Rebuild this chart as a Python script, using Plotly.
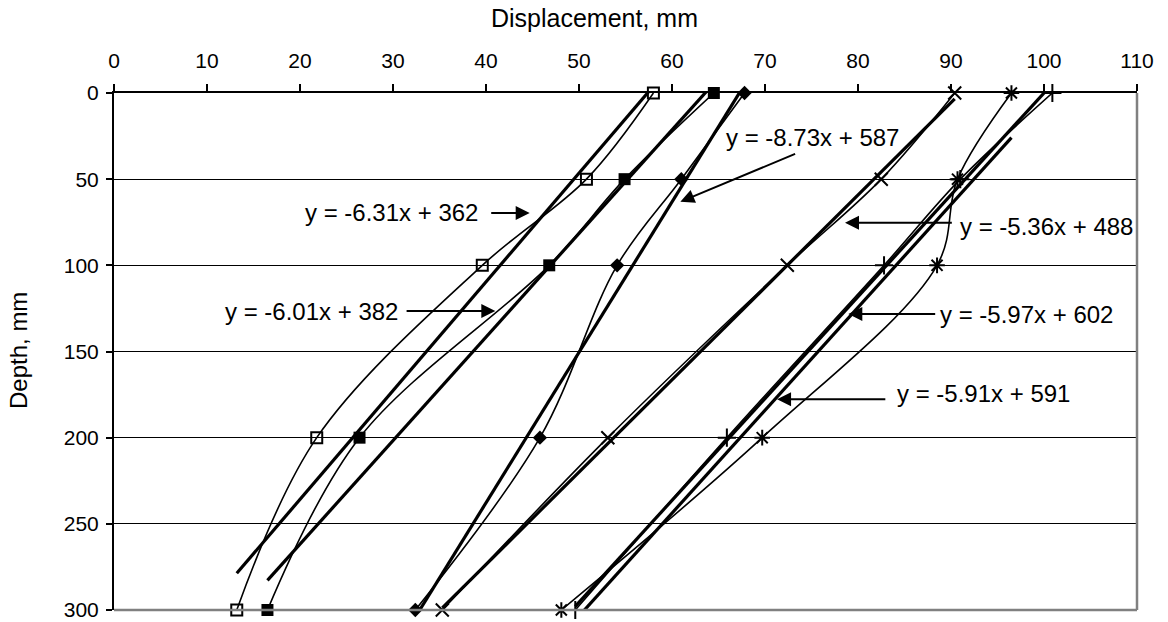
import plotly.graph_objects as go
import numpy as np

# ---- data ----
depth = [0, 50, 100, 200, 300]
disp_open_sq = [58.0, 50.8, 39.6, 21.8, 13.2]
disp_fill_sq = [64.5, 54.9, 46.8, 26.4, 16.5]
disp_diamond = [67.8, 61.0, 54.1, 45.8, 32.4]
disp_x = [90.4, 82.5, 72.4, 53.1, 35.3]
disp_star = [96.5, 90.7, 88.5, 69.7, 48.1]
disp_plus = [100.9, 91.0, 82.8, 65.9, 49.6]

# trendline coefficients shown on the chart: depth = slope*disp + intercept
trend_slopes = [-6.31, -6.01, -8.73, -5.36, -5.97, -5.91]
trend_intercepts = [362, 382, 587, 488, 602, 591]

x_ticks = list(range(0, 111, 10))
y_ticks = list(range(0, 301, 50))

series = [
    (disp_open_sq, dict(symbol="square-open", size=11, color="black", line=dict(width=2, color="black"))),
    (disp_fill_sq, dict(symbol="square", size=12, color="black")),
    (disp_diamond, dict(symbol="diamond", size=11, color="black")),
    (disp_x, dict(symbol="x-thin-open", size=13, color="black", line=dict(width=2, color="black"))),
    (disp_star, dict(symbol="asterisk-open", size=13, color="black", line=dict(width=2, color="black"))),
    (disp_plus, dict(symbol="cross-thin-open", size=13, color="black", line=dict(width=2, color="black"))),
]

FONT = "Arial, Liberation Sans, sans-serif"
fig = go.Figure()

# trend lines over each series' displacement range
for (disp, _), m, b in zip(series, trend_slopes, trend_intercepts):
    xs = np.array([min(disp), max(disp)])
    fig.add_trace(go.Scatter(x=xs, y=m * xs + b, mode="lines",
                             line=dict(color="black", width=3.2),
                             hoverinfo="skip", showlegend=False))

# smoothed data curves with markers
for disp, mk in series:
    fig.add_trace(go.Scatter(x=disp, y=depth, mode="lines+markers",
                             line=dict(color="black", width=1.6, shape="spline", smoothing=1),
                             marker=mk, cliponaxis=False, showlegend=False))

# annotation placement (label anchor, arrow tail, arrow head) in axis units
labels = [
    # text x, text y, anchor, tail x, tail y, head x, head y
    (65.6, 25.7, "left", 73.4, 35.0, 60.9, 63.1),
    (39.35, 69.6, "right", 40.4, 69.6, 44.7, 69.6),
    (30.75, 126.5, "right", 31.3, 126.5, 41.0, 126.5),
    (90.75, 77.6, "left", 90.25, 75.3, 78.6, 75.3),
    (88.6, 128.8, "left", 88.46, 128.2, 78.96, 128.2),
    (83.98, 174.3, "left", 83.1, 177.7, 71.3, 177.7),
]
order = [2, 0, 1, 3, 4, 5]  # which trendline each label refers to
for (tx, ty, anc, ax_, ay_, hx, hy), k in zip(labels, order):
    m, b = trend_slopes[k], trend_intercepts[k]
    txt = f"y = {m:.2f}x + {b}"
    fig.add_annotation(x=tx, y=ty, xref="x", yref="y", text=txt, showarrow=False,
                       xanchor=anc, yanchor="middle",
                       font=dict(family=FONT, size=24, color="black"))
    fig.add_annotation(x=hx, y=hy, xref="x", yref="y", ax=ax_, ay=ay_, axref="x", ayref="y",
                       text="", showarrow=True, arrowhead=2, arrowsize=1.4, arrowwidth=2,
                       arrowcolor="black")

# axis titles (positions given in page pixels, converted to paper fractions)
pw, ph = 1168 - 114 - 31, 622 - 93 - 12
fig.add_annotation(x=(594 - 114) / pw, y=(622 - 12 - 18) / ph, xref="paper", yref="paper",
                   text="Displacement, mm", showarrow=False,
                   font=dict(family=FONT, size=25, color="black"),
                   xanchor="center", yanchor="middle")
fig.add_annotation(x=(18 - 114) / pw, y=(622 - 12 - 351) / ph, xref="paper", yref="paper",
                   text="Depth, mm", textangle=-90, showarrow=False,
                   font=dict(family=FONT, size=24, color="black"),
                   xanchor="center", yanchor="middle")

# right and bottom gray plot-area border
fig.add_shape(type="line", xref="paper", yref="paper", x0=1, x1=1, y0=0, y1=1,
              line=dict(color="#808080", width=2.5), layer="above")
fig.add_shape(type="line", xref="paper", yref="paper", x0=0, x1=1, y0=0, y1=0,
              line=dict(color="#808080", width=2.5), layer="above")

fig.update_layout(
    width=1168, height=622,
    margin=dict(l=114, r=31, t=93, b=12),
    paper_bgcolor="white", plot_bgcolor="white",
    font=dict(family=FONT, size=21, color="black"),
    showlegend=False,
    xaxis=dict(
        side="top", range=[0, 110], tickvals=x_ticks, ticktext=[str(v) for v in x_ticks],
        ticks="outside", ticklen=7, tickwidth=1.5, tickcolor="black", ticklabelstandoff=8,
        showline=True, linecolor="black", linewidth=2, showgrid=False, zeroline=False,
        automargin=False, tickfont=dict(size=21),
    ),
    yaxis=dict(
        range=[300, 0], tickvals=y_ticks, ticktext=[str(v) for v in y_ticks],
        ticks="outside", ticklen=6, tickwidth=1.5, tickcolor="black", ticklabelstandoff=3,
        showline=True, linecolor="black", linewidth=2,
        showgrid=True, gridcolor="black", gridwidth=1.2, zeroline=False,
        automargin=False, tickfont=dict(size=21),
    ),
)

fig.write_html("out.html", config={"displayModeBar": False},
               post_script="document.body.style.margin='0px';")
